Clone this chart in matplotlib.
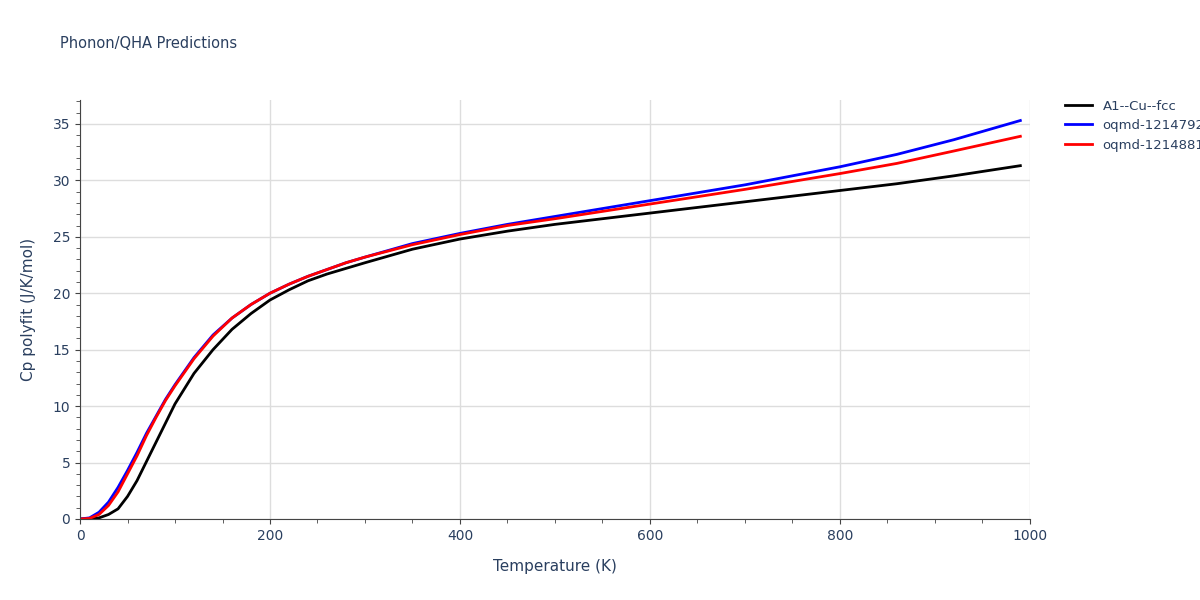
import matplotlib.pyplot as plt
from matplotlib.ticker import MultipleLocator

T = [0, 10, 20, 30, 40, 50, 60, 70, 80, 90, 100, 120, 140, 160, 180, 200, 220, 240,
     260, 280, 300, 350, 400, 450, 500, 600, 700, 800, 860, 920, 990]
cu_fcc = [0, 0, 0.1, 0.4, 0.9, 2.0, 3.4, 5.1, 6.8, 8.5, 10.2, 12.9, 15.0, 16.8, 18.2, 19.4,
          20.3, 21.1, 21.7, 22.2, 22.7, 23.9, 24.8, 25.5, 26.1, 27.1, 28.1, 29.1, 29.7, 30.4, 31.3]
oqmd_1214792 = [0, 0.1, 0.6, 1.5, 2.8, 4.3, 5.9, 7.6, 9.1, 10.6, 11.9, 14.3, 16.3, 17.8, 19.0, 20.0,
                20.8, 21.5, 22.1, 22.7, 23.2, 24.4, 25.3, 26.1, 26.8, 28.2, 29.6, 31.2, 32.3, 33.6, 35.3]
oqmd_1214881 = [0, 0.05, 0.4, 1.2, 2.4, 4.0, 5.6, 7.4, 9.0, 10.5, 11.8, 14.2, 16.2, 17.8, 19.0, 20.0,
                20.8, 21.5, 22.1, 22.7, 23.2, 24.3, 25.2, 26.0, 26.6, 27.9, 29.2, 30.6, 31.5, 32.6, 33.9]

series = [("A1--Cu--fcc", cu_fcc, "black"),
          ("oqmd-1214792", oqmd_1214792, "blue"),
          ("oqmd-1214881", oqmd_1214881, "red")]

text_col = "#2a3f5f"
fig = plt.figure(figsize=(12, 6), dpi=100)
ax = fig.add_axes([0.0667, 0.135, 0.7915, 0.698])
for name, vals, c in series:
    ax.plot(T, vals, color=c, lw=2, label=name)

ax.set_xlim(0, 1000)
ax.set_ylim(0, 37.1)
ax.xaxis.set_major_locator(MultipleLocator(200))
ax.xaxis.set_minor_locator(MultipleLocator(50))
ax.yaxis.set_major_locator(MultipleLocator(5))
ax.yaxis.set_minor_locator(MultipleLocator(1))
ax.grid(True, which="major", color="#dddddd", lw=1)
for s in ["top", "right"]:
    ax.spines[s].set_visible(False)
for s in ["left", "bottom"]:
    ax.spines[s].set_color("#444444")
ax.tick_params(colors="#444444", labelcolor=text_col, labelsize=10)
ax.tick_params(which="minor", length=3, colors="#444444")
ax.set_xlabel("Temperature (K)", color=text_col, fontsize=11, labelpad=12)
ax.set_ylabel("Cp polyfit (J/K/mol)", color=text_col, fontsize=11, labelpad=12)
fig.text(0.05, 0.92, "Phonon/QHA Predictions", color=text_col, fontsize=10.5)
ax.legend(loc="upper left", bbox_to_anchor=(1.025, 1.03), frameon=False,
          labelcolor=text_col, fontsize=9.5, handlelength=2)
fig.savefig("out.png")
